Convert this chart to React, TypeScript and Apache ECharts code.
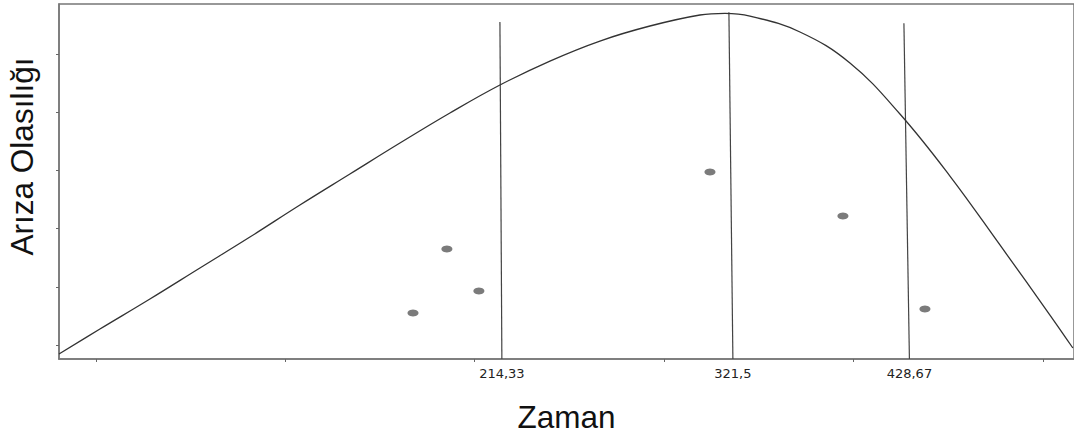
import React, { useEffect, useRef } from "react";
import * as echarts from "echarts";

// Fitted failure-probability curve (Zaman, Arıza Olasılığı)
const curveX = [-19.5, 2.1, 28.5, 54.9, 81.3, 107.7, 134.1, 160.5, 186.9, 213.3, 239.7, 266.1, 292.5, 318.9, 332.1, 345.3, 371.7, 398.1, 424.5, 450.9, 477.3, 503.7, 515.8];
const curveY = [-0.0154, 0.0275, 0.0791, 0.1324, 0.1856, 0.2406, 0.2939, 0.3471, 0.3987, 0.4468, 0.488, 0.5224, 0.5482, 0.5671, 0.570, 0.5653, 0.5379, 0.4846, 0.397, 0.2904, 0.1719, 0.0516, -0.0051];

// Observed points
const pointX = [167.4, 185.3, 202.2, 324.2, 394.4, 437.7];
const pointY = [0.055, 0.165, 0.0928, 0.2973, 0.2217, 0.0619];

// Reference vertical lines (top x, bottom x, top y) and their labels
const refTopX = [213.3, 334.2, 426.6];
const refBottomX = [214.33, 336.3, 429.5];
const refTopY = [0.555, 0.572, 0.553];
const refLabels = ["214,33", "321,5", "428,67"];

// Axis ticks
const xTicks = [0, 100, 200, 300, 400, 500];
const yTicks = [0, 0.1, 0.2, 0.3, 0.4, 0.5];
const xMin = -19.5;
const xMax = 516.4;
const yMin = -0.024;
const yMax = 0.586;

const FONT = "'Liberation Sans', Arial, sans-serif";

export default function App() {
  const ref = useRef<HTMLDivElement>(null);
  useEffect(() => {
    if (!ref.current) return;
    const chart = echarts.init(ref.current, undefined, { renderer: "svg" });
    const refSeries = refTopX.map((tx, i) => ({
      type: "line",
      data: [
        [tx, refTopY[i]],
        [refBottomX[i], yMin],
      ],
      showSymbol: false,
      symbol: "none",
      lineStyle: { color: "#444", width: 1.2 },
      silent: true,
      z: 3,
    }));
    chart.setOption({
      animation: false,
      backgroundColor: "#fff",
      grid: {
        left: 59,
        top: 4,
        right: 0,
        bottom: 75,
        show: true,
        borderColor: "#777",
        borderWidth: 1.5,
        containLabel: false,
        outerBoundsMode: "none",
      },
      xAxis: {
        type: "value",
        min: xMin,
        max: xMax,
        name: "Zaman",
        nameLocation: "middle",
        nameGap: 42,
        nameTextStyle: { fontFamily: FONT, fontSize: 31.5, color: "#111" },
        axisLine: { show: true, onZero: false, lineStyle: { color: "#777", width: 1.5 } },
        axisTick: { show: true, customValues: xTicks, length: 3, lineStyle: { color: "#666" } },
        axisLabel: {
          show: true,
          customValues: refBottomX,
          formatter: (v: number) => {
            const i = refBottomX.findIndex((b) => Math.abs(b - v) < 1e-6);
            return i >= 0 ? refLabels[i] : "";
          },
          fontFamily: "'DejaVu Sans', sans-serif",
          fontSize: 13,
          color: "#222",
          margin: 8,
        },
        splitLine: { show: false },
      },
      yAxis: {
        type: "value",
        min: yMin,
        max: yMax,
        name: "Arıza Olasılığı",
        nameLocation: "middle",
        nameRotate: 90,
        nameGap: 21,
        nameTextStyle: { fontFamily: FONT, fontSize: 31.5, color: "#111", padding: [0, 0, 0, 50] },
        axisLine: { show: true, onZero: false, lineStyle: { color: "#777", width: 1.5 } },
        axisTick: { show: true, customValues: yTicks, length: 3, lineStyle: { color: "#666" } },
        axisLabel: { show: false },
        splitLine: { show: false },
      },
      series: [
        {
          type: "line",
          data: curveX.map((x, i) => [x, curveY[i]]),
          smooth: 0.4,
          showSymbol: false,
          symbol: "none",
          lineStyle: { color: "#333", width: 1.3 },
          z: 4,
        },
        ...refSeries,
        {
          type: "scatter",
          data: pointX.map((x, i) => [x, pointY[i]]),
          symbol: "circle",
          symbolSize: [11, 7],
          itemStyle: { color: "#5a5a5a" },
          z: 5,
        },
      ],
    });
    return () => chart.dispose();
  }, []);
  return (
    <div
      ref={ref}
      style={{ position: "fixed", left: 0, top: 0, width: 1074, height: 434 }}
    />
  );
}
